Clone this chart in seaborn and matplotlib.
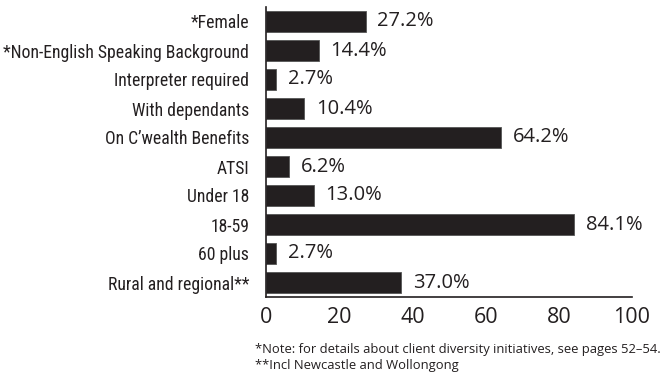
import matplotlib
matplotlib.use('Agg')
import matplotlib.pyplot as plt
import seaborn as sns
import pandas as pd

# data
categories = ['*Female', '*Non-English Speaking Background', 'Interpreter required',
              'With dependants', 'On C\u2019wealth Benefits', 'ATSI', 'Under 18',
              '18-59', '60 plus', 'Rural and regional**']
percent = [27.2, 14.4, 2.7, 10.4, 64.2, 6.2, 13.0, 84.1, 2.7, 37.0]
xticks = [0, 20, 40, 60, 80, 100]
note_lines = ['*Note: for details about client diversity initiatives, see pages 52\u201354.',
              '**Incl Newcastle and Wollongong']

df = pd.DataFrame({'cat': categories, 'pct': percent})

sns.set_style('white')
plt.rcParams['font.family'] = ['Open Sans', 'DejaVu Sans']
dark = '#231f20'

fig = plt.figure(figsize=(6.68, 3.74), dpi=100)
ax = fig.add_axes([266 / 668, 1 - 297 / 374, 366 / 668, 290 / 374])

sns.barplot(data=df, x='pct', y='cat', orient='h', color=dark, width=0.75,
            edgecolor='#555555', linewidth=0.6, saturation=1, ax=ax)

for i, v in enumerate(percent):
    ax.text(v + 3.2, i, f'{v:.1f}%', va='center', ha='left', fontsize=14.5, color=dark)

ax.set_xlim(0, 100)
ax.set_ylim(len(categories) - 0.5, -0.5)
ax.set_xticks(xticks)
ax.set_xticklabels([str(t) for t in xticks], fontsize=15.5, color=dark)
ax.set_yticks(range(len(categories)))
ax.set_yticklabels(categories, fontsize=12.7, color=dark,
                   family=['Roboto Condensed', 'Roboto', 'DejaVu Sans'])
ax.set_xlabel('')
ax.set_ylabel('')

sns.despine(ax=ax, top=True, right=True)
for s in ['left', 'bottom']:
    ax.spines[s].set_color(dark)
    ax.spines[s].set_linewidth(1.2)
ax.tick_params(axis='x', direction='in', length=5, width=1.2, color=dark, pad=7)
ax.tick_params(axis='y', length=0, pad=12)

fig.text(255 / 668, 1 - 350 / 374, note_lines[0], fontsize=9.4, color=dark, va='center')
fig.text(255 / 668, 1 - 365 / 374, note_lines[1], fontsize=9.4, color=dark, va='center')

fig.savefig('out.png', dpi=100)
